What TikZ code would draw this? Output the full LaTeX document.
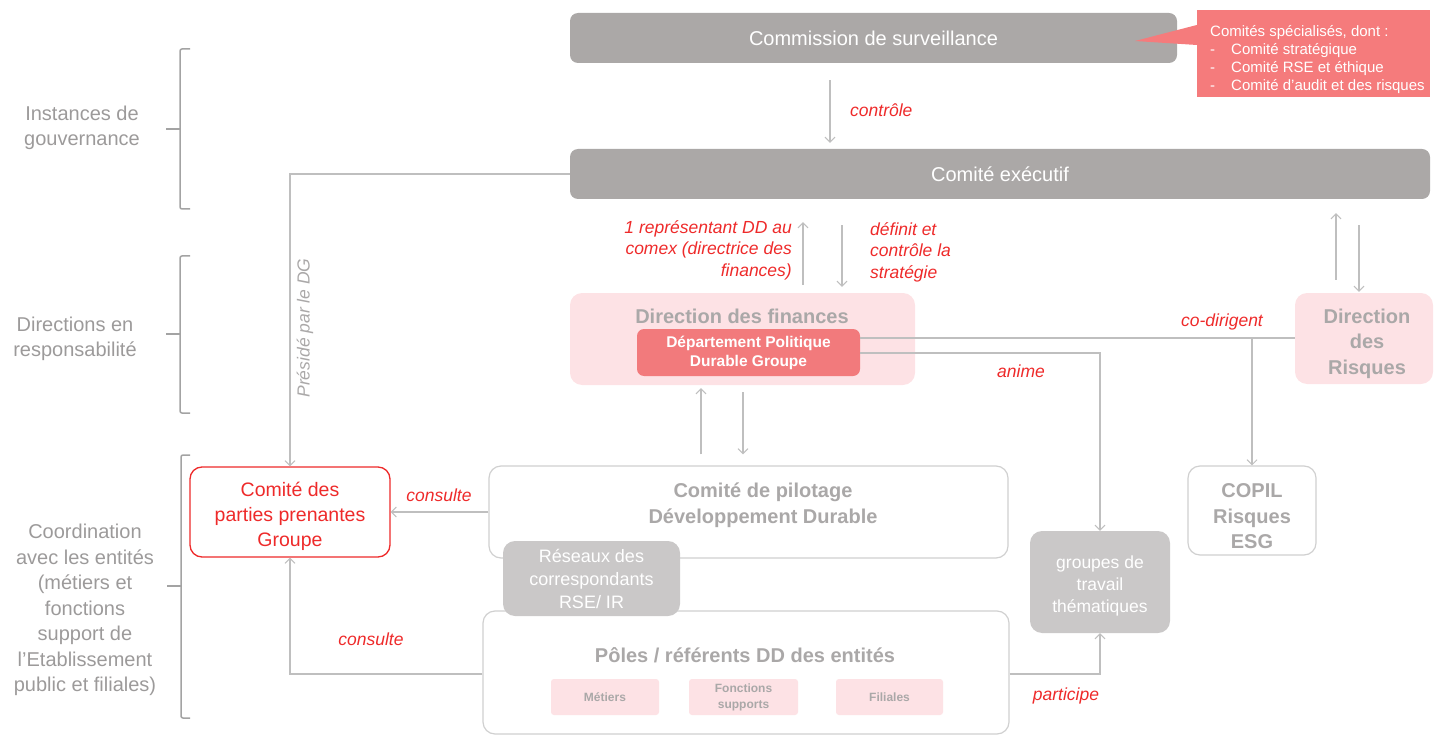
\documentclass[tikz,border=0pt]{standalone}
\usepackage{fontspec}
\setmainfont{Liberation Sans}
\usetikzlibrary{arrows.meta,calc}

\definecolor{boxgray}{HTML}{ABA8A7}
\definecolor{softgray}{HTML}{CAC8C8}
\definecolor{pinkbg}{HTML}{FDE2E5}
\definecolor{deptred}{HTML}{F27A7C}
\definecolor{callred}{HTML}{F57B7C}
\definecolor{labred}{HTML}{EE2A2A}
\definecolor{wire}{HTML}{BFBFBF}
\definecolor{greytext}{HTML}{AAA8A8}
\definecolor{sidetext}{HTML}{9C9A9A}
\definecolor{outline}{HTML}{D0D0D0}
\definecolor{brace}{HTML}{A3A3A3}

\newcommand\fs[2]{\fontsize{#1}{#2}\selectfont}

\begin{document}
\begin{tikzpicture}[x=1pt,y=-1pt,
  base/.style={rectangle, rounded corners=8pt, inner sep=0pt, align=center},
  govbox/.style={base, fill=boxgray, text=white, font=\fs{20}{24}},
  pinkbox/.style={base, rounded corners=12pt, fill=pinkbg},
  outbox/.style={base, rounded corners=12pt, fill=white, draw=outline, line width=1.2pt},
  softbox/.style={base, rounded corners=12pt, fill=softgray, text=white},
  smallpink/.style={base, rounded corners=3pt, fill=pinkbg, text=greytext,
    font=\fs{12}{16}\bfseries, minimum height=36pt},
  boldgrey/.style={inner sep=0pt, align=center, text=greytext, font=\fs{20}{25.5}\bfseries},
  side/.style={inner sep=0pt, align=center, text=sidetext, font=\fs{20}{25.5}},
  redlab/.style={inner sep=0pt, text=labred, font=\fs{17.5}{21.5}\itshape},
  wireline/.style={draw=wire, line width=1.2pt},
  arr/.style={wireline, -{Straight Barb[length=5pt,width=10pt,line width=1pt]}},
  bracket/.style={draw=brace, line width=1.5pt, rounded corners=2pt}
]
\useasboundingbox (0,0) rectangle (1434,735);

% ---- side brackets and captions
\draw[bracket] (190,49) -- (180,49) -- (180,209) -- (190,209);
\draw[bracket] (166,129) -- (180,129);
\draw[bracket] (190,256) -- (180,256) -- (180,413) -- (190,413);
\draw[bracket] (166,334) -- (180,334);
\draw[bracket] (190,455) -- (181,455) -- (181,718) -- (190,718);
\draw[bracket] (167,586) -- (181,586);

\node[side] (lgov) at (82,128) {Instances de\\gouvernance};
\node[side] (lresp) at (75,339) {Directions en\\responsabilité};
\node[side] (lcoord) at (85,610) {Coordination\\avec les entités\\(métiers et\\fonctions\\support de\\l'Etablissement\\public et filiales)};

% ---- governance bodies
\node[govbox, minimum width=607pt, minimum height=50pt] (cs) at (873.5,38) {Commission de surveillance};
\node[govbox, minimum width=860pt, minimum height=50pt] (ce) at (1000,174) {Comité exécutif};

% callout listing the specialised committees
\node[rectangle, fill=callred, minimum width=233pt, minimum height=87pt, inner sep=0pt] (cal) at (1313.5,53.5) {};
\coordinate (calt) at (0,25);
\coordinate (calb) at (0,45);
\coordinate (caltip) at (1135,41);
\fill[callred] (cal.west |- calt) -- (caltip) -- (cal.west |- calb) -- cycle;
\node[inner sep=0pt, anchor=west, align=left, text=white, font=\fs{15}{18}] (caltext) at (1210,60)
  {Comités spécialisés, dont :\\
   \makebox[21pt][l]{-}Comité stratégique\\
   \makebox[21pt][l]{-}Comité RSE et éthique\\
   \makebox[21pt][l]{-}Comité d'audit et des risques};

% ---- directions
\node[pinkbox, minimum width=345pt, minimum height=92pt] (df) at (742.5,339) {};
\node[boldgrey] (dft) at (742,316) {Direction des finances};
\node[base, rounded corners=7pt, fill=deptred, text=white, font=\fs{15.5}{19}\bfseries,
      minimum width=223pt, minimum height=47pt] (dpt) at (748.5,352.5) {Département Politique\\Durable Groupe};
\node[pinkbox, minimum width=138pt, minimum height=91pt] (dr) at (1364,338.5) {};
\node[boldgrey] (drt) at (1367,343.5) {Direction\\des\\Risques};

% ---- coordination
\node[outbox, minimum width=128pt, minimum height=89pt] (copil) at (1252,510.5) {};
\node[boldgrey] (copilt) at (1252,516.5) {COPIL\\Risques\\ESG};
\node[base, rounded corners=12pt, fill=white, draw=labred, line width=1.3pt,
      minimum width=200pt, minimum height=90pt] (cpp) at (290,512) {};
\node[inner sep=0pt, align=center, text=labred, font=\fs{19.5}{25}] (cppt) at (290,516) {Comité des\\parties prenantes\\Groupe};
\node[outbox, minimum width=519pt, minimum height=92pt] (pil) at (748.5,512) {};
\node[boldgrey] (pilt) at (763,505) {Comité de pilotage\\Développement Durable};
\node[outbox, minimum width=526pt, minimum height=123pt] (poles) at (746,672.5) {};
\node[boldgrey] (polt) at (745,655) {Pôles / référents DD des entités};
\node[smallpink, minimum width=108pt] (met) at (605,697) {Métiers};
\node[smallpink, minimum width=109pt] (fct) at (743.5,697) {Fonctions\\supports};
\node[smallpink, minimum width=107pt] (fil) at (889.5,697) {Filiales};
\node[softbox, font=\fs{18}{23}, minimum width=177pt, minimum height=75pt] (res) at (591.5,578.5) {Réseaux des\\correspondants\\RSE/ IR};
\node[softbox, minimum width=140pt, minimum height=102pt] (grp) at (1100,582) {};
\node[inner sep=0pt, align=center, text=white, font=\fs{17.5}{22}] (grpt) at (1100,586) {groupes de\\travail\\thématiques};

% ---- connectors
\coordinate (kctl) at (830,0);
\draw[arr, shorten <=17pt, shorten >=6pt] (cs.south -| kctl) -- (ce.north -| kctl);
\node[redlab, anchor=west] (lctl) at (850,110) {contrôle};

\draw[arr] (ce.west) -| (cpp.north);
\node[inner sep=0pt, rotate=90, text=greytext, font=\fs{17.5}{20}\itshape] (lpres) at (305,328) {Présidé par le DG};

\coordinate (kup) at (803,0);
\coordinate (kdn) at (842,0);
\draw[arr, shorten <=8pt, shorten >=23pt] (df.north -| kup) -- (ce.south -| kup);
\draw[arr, shorten <=26pt, shorten >=6pt] (ce.south -| kdn) -- (df.north -| kdn);
\node[redlab, anchor=east, align=right] (lrep) at (792,250) {1 représentant DD au\\comex (directrice des\\finances)};
\node[redlab, anchor=west, align=left] (ldef) at (870,252) {définit et\\contrôle la\\stratégie};

\coordinate (kru) at (1336,0);
\coordinate (krd) at (1359,0);
\draw[arr, shorten <=13pt, shorten >=14pt] (dr.north -| kru) -- (ce.south -| kru);
\draw[arr, shorten <=26pt, shorten >=1pt] (ce.south -| krd) -- (dr.north -| krd);

\coordinate (ycd) at (0,338);
\draw[wireline] (dpt.east |- ycd) -- (dr.west |- ycd);
\draw[arr] (copil.north |- ycd) -- (copil.north);
\node[redlab] (lcod) at (1222,322) {co-dirigent};

\coordinate (yan) at (0,353);
\draw[arr] (dpt.east |- yan) -| (grp.north);
\node[redlab] (lani) at (1021,371) {anime};

\coordinate (kpu) at (701,0);
\coordinate (kpd) at (743,0);
\draw[arr, shorten <=11pt, shorten >=3pt] (pil.north -| kpu) -- (df.south -| kpu);
\draw[arr, shorten <=7pt, shorten >=11pt] (df.south -| kpd) -- (pil.north -| kpd);

\draw[arr] (pil.west) -- (cpp.east);
\node[redlab] (lcons1) at (439,495) {consulte};

\coordinate (ypo) at (0,674);
\draw[arr] (poles.west |- ypo) -| (cpp.south);
\node[redlab] (lcons2) at (371,639) {consulte};
\draw[arr] (poles.east |- ypo) -| (grp.south);
\node[redlab] (lpart) at (1066,696) {participe};

\end{tikzpicture}
\end{document}
